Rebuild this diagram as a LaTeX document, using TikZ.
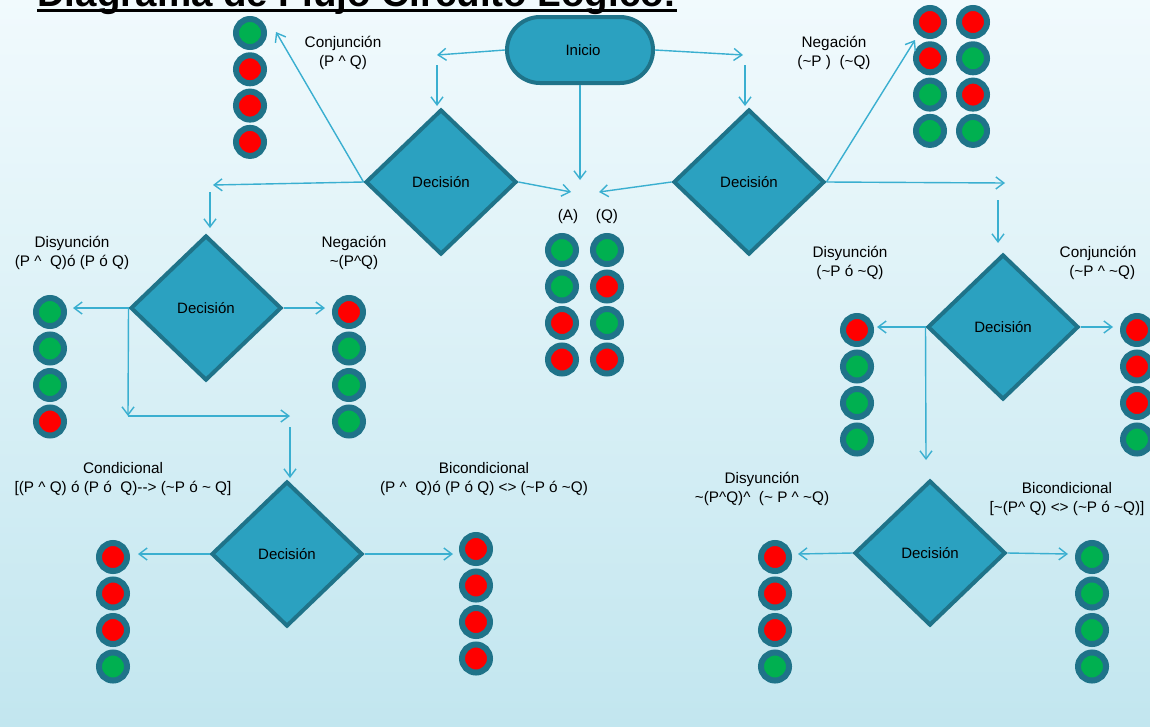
\documentclass[tikz,border=0pt]{standalone}
\usepackage{fontspec}
\setmainfont{Liberation Sans}
\usetikzlibrary{shapes.geometric,arrows.meta}
\definecolor{bgtop}{HTML}{F1FAFD}
\definecolor{bgbot}{HTML}{C2E6EF}
\definecolor{boxfill}{HTML}{2BA1C0}
\definecolor{boxedge}{HTML}{1F7389}
\definecolor{wire}{HTML}{3AAFD0}
\definecolor{lampG}{HTML}{00B050}
\definecolor{lampR}{HTML}{FF0000}
\newcommand\tld{\textasciitilde}
\newcommand\crt{\textasciicircum}
\begin{document}
\begin{tikzpicture}[x=1pt,y=-1pt,
  decision/.style={diamond, draw=boxedge, fill=boxfill, line width=4pt,
    minimum width=151pt, minimum height=145pt, inner sep=0pt,
    font=\fontsize{15}{18}\selectfont},
  startbox/.style={rectangle, rounded corners=33pt, draw=boxedge, fill=boxfill,
    line width=4pt, minimum width=146pt, minimum height=66pt, inner sep=0pt,
    font=\fontsize{15}{18}\selectfont},
  lamp/.style={circle, draw=boxedge, line width=6pt, minimum size=28pt, inner sep=0pt},
  lbl/.style={font=\fontsize{15.3}{19}\selectfont, align=center, inner sep=0pt},
  conn/.style={draw=wire, line width=1.4pt, -{Straight Barb[length=8pt,width=12pt]}}
]
\useasboundingbox (0,0) rectangle (1150,726);
\shade[top color=bgtop, bottom color=bgbot] (0,0) rectangle (1150,726);

% title (cut off at the top edge, as in the reference)
\node[font=\bfseries\fontsize{38.5}{40}\selectfont, anchor=base west, inner sep=0pt] (title) at (37,6.5) {Diagrama de Flujo Circuito Lógico:};
\draw[line width=2.5pt] ([yshift=-4pt]title.base west) -- ([yshift=-4pt]title.base east);

% main shapes
\node[startbox] (ini) at (580,50) {\hspace*{6pt}Inicio};
\node[decision] (d1) at (441,182) {Decisión};
\node[decision] (d2) at (749,182) {Decisión};
\node[decision] (d3) at (206,308) {Decisión};
\node[decision] (d4) at (1003,327) {Decisión};
\node[decision] (d5) at (287,554) {Decisión};
\node[decision] (d6) at (930,553) {Decisión};

% labels
\node[lbl] (lbCj) at (343,53) {Conjunción\\(P \crt{} Q)};
\node[lbl] (lbNg) at (834,53) {Negación\\(\tld P )\ \ (\tld Q)};
\node[lbl] (lbA) at (568,217) {(A)};
\node[lbl] (lbQ) at (607,217) {(Q)};
\node[lbl] (lbDs1) at (72,253) {Disyunción\\(P \crt{}\ \ Q)ó (P ó Q)};
\node[lbl] (lbNg2) at (354,253) {Negación\\\tld(P\crt Q)};
\node[lbl] (lbDs2) at (850,263) {Disyunción\\(\tld P ó \tld Q)};
\node[lbl] (lbCj2) at (1098,263) {Conjunción\\\ \ (\tld P \crt{} \tld Q)};
\node[lbl] (lbCond) at (123,479) {Condicional\\{}[(P \crt{} Q) ó (P ó\ \ Q){-}{-}> (\tld P ó \tld{} Q]};
\node[lbl] (lbBic) at (484,479) {Bicondicional\\(P \crt{}\ \ Q)ó (P ó Q) <> (\tld P ó \tld Q)};
\node[lbl] (lbDs3) at (762,489) {Disyunción\\\tld(P\crt Q)\crt{}\ \ (\tld{} P \crt{} \tld Q)};
\node[lbl] (lbBic2) at (1067,499) {Bicondicional\\{}[\tld(P\crt{} Q) <> (\tld P ó \tld Q)]};

% lamps
\foreach \c [count=\i] in {lampG,lampR,lampR,lampR}
  \node[lamp, fill=\c] (cj\i) at (250,{33+36.3*(\i-1)}) {};
\foreach \c [count=\i] in {lampR,lampR,lampG,lampG}
  \node[lamp, fill=\c] (ngA\i) at (930,{22+36.3*(\i-1)}) {};
\foreach \c [count=\i] in {lampR,lampG,lampR,lampG}
  \node[lamp, fill=\c] (ngB\i) at (973,{22+36.3*(\i-1)}) {};
\foreach \c [count=\i] in {lampG,lampG,lampR,lampR}
  \node[lamp, fill=\c] (pa\i) at (562,{250+36.5*(\i-1)}) {};
\foreach \c [count=\i] in {lampG,lampR,lampG,lampR}
  \node[lamp, fill=\c] (pq\i) at (607,{250+36.5*(\i-1)}) {};
\foreach \c [count=\i] in {lampG,lampG,lampG,lampR}
  \node[lamp, fill=\c] (dsa\i) at (50,{312+36.5*(\i-1)}) {};
\foreach \c [count=\i] in {lampR,lampG,lampG,lampG}
  \node[lamp, fill=\c] (nga\i) at (349,{312+36.5*(\i-1)}) {};
\foreach \c [count=\i] in {lampR,lampG,lampG,lampG}
  \node[lamp, fill=\c] (dsb\i) at (857,{330+36.5*(\i-1)}) {};
\foreach \c [count=\i] in {lampR,lampR,lampR,lampG}
  \node[lamp, fill=\c] (cjb\i) at (1137,{330+36.5*(\i-1)}) {};
\foreach \c [count=\i] in {lampR,lampR,lampR,lampG}
  \node[lamp, fill=\c] (cd\i) at (113,{557+36.5*(\i-1)}) {};
\foreach \c [count=\i] in {lampR,lampR,lampR,lampR}
  \node[lamp, fill=\c] (bc\i) at (476,{549+36.5*(\i-1)}) {};
\foreach \c [count=\i] in {lampR,lampR,lampR,lampG}
  \node[lamp, fill=\c] (dsc\i) at (775,{557+36.5*(\i-1)}) {};
\foreach \c [count=\i] in {lampG,lampG,lampG,lampG}
  \node[lamp, fill=\c] (bcb\i) at (1092,{557+36.5*(\i-1)}) {};

% connector end points
\coordinate (aIL) at (437,55);
\coordinate (aILd) at (437,65);
\coordinate (aILt) at (437,106);
\coordinate (aIR) at (743,55);
\coordinate (aIRd) at (745,65);
\coordinate (aIRt) at (745,106);
\coordinate (cTop) at (580,180);
\coordinate (cL) at (571,192);
\coordinate (cR) at (599,192);
\coordinate (cjTip) at (276,32);
\coordinate (d1L) at (213,185);
\coordinate (d1Ld) at (210,192);
\coordinate (d1Lt) at (210,228);
\coordinate (ngTip) at (915,40);
\coordinate (d2R) at (1005,183);
\coordinate (d2Rd) at (998,200);
\coordinate (d2Rt) at (998,243);
\coordinate (d3L) at (73,308);
\coordinate (d3R) at (325,308);
\coordinate (d3Ld) at (128,416);
\coordinate (d3Lr) at (290,416);
\coordinate (d3Lrd) at (290,427);
\coordinate (d3Lrt) at (290,478);
\coordinate (d4L) at (877,327);
\coordinate (d4R) at (1113,327);
\coordinate (d4Ld) at (926,460);
\coordinate (d5L) at (138,554);
\coordinate (d5R) at (453,554);
\coordinate (d6L) at (798,554);
\coordinate (d6R) at (1068,554);

% connectors
\draw[conn] (ini.west) -- (aIL);
\draw[conn] (aILd) -- (aILt);
\draw[conn] (ini.east) -- (aIR);
\draw[conn] (aIRd) -- (aIRt);
\draw[conn] (ini.south) -- (cTop);
\draw[conn] (d1.east) -- (cL);
\draw[conn] (d2.west) -- (cR);
\draw[conn] (d1.west) -- (cjTip);
\draw[conn] (d1.west) -- (d1L);
\draw[conn] (d1Ld) -- (d1Lt);
\draw[conn] (d2.east) -- (ngTip);
\draw[conn] (d2.east) -- (d2R);
\draw[conn] (d2Rd) -- (d2Rt);
\draw[conn] (d3.west) -- (d3L);
\draw[conn] (d3.east) -- (d3R);
\draw[conn] (d3.west) -- (d3Ld);
\draw[conn] (d3Ld) -- (d3Lr);
\draw[conn] (d3Lrd) -- (d3Lrt);
\draw[conn] (d4.west) -- (d4L);
\draw[conn] (d4.east) -- (d4R);
\draw[conn] (d4.west) -- (d4Ld);
\draw[conn] (d5.west) -- (d5L);
\draw[conn] (d5.east) -- (d5R);
\draw[conn] (d6.west) -- (d6L);
\draw[conn] (d6.east) -- (d6R);
\end{tikzpicture}
\end{document}
